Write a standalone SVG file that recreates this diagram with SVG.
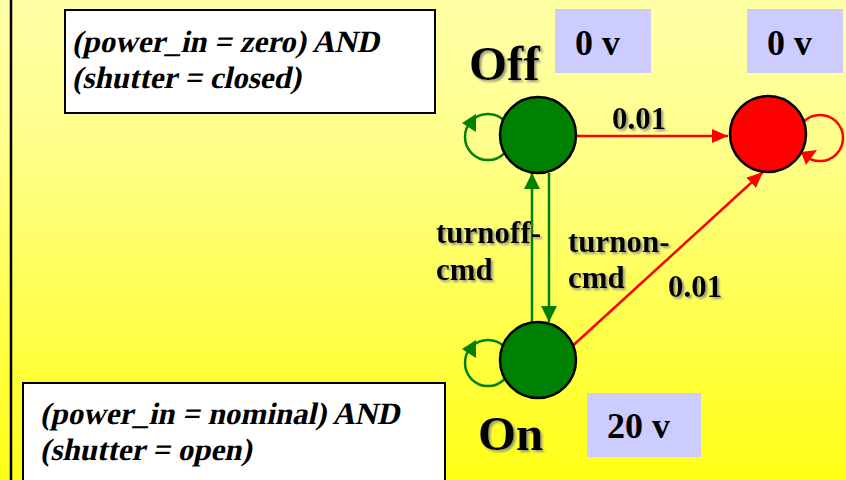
<svg xmlns="http://www.w3.org/2000/svg" width="846" height="480" viewBox="0 0 846 480">
<defs>
<linearGradient id="bg" x1="0" y1="0" x2="0" y2="1">
<stop offset="0" stop-color="#ffffa6"/>
<stop offset="0.3" stop-color="#ffff8c"/>
<stop offset="1" stop-color="#ffff14"/>
</linearGradient>
<filter id="sh" x="-20%" y="-20%" width="150%" height="150%">
<feDropShadow dx="2" dy="2" stdDeviation="1" flood-color="#808080" flood-opacity="0.8"/>
</filter>
<marker id="ar" markerUnits="userSpaceOnUse" markerWidth="17" markerHeight="14" refX="16" refY="7" orient="auto">
<path d="M0,0 L16,7 L0,14 z" fill="#ff0000"/>
</marker>
<marker id="ag" markerUnits="userSpaceOnUse" markerWidth="17" markerHeight="16" refX="16" refY="8" orient="auto">
<path d="M0,0 L16,8 L0,16 z" fill="#008000"/>
</marker>
</defs>
<style>
.cond{font-family:"Liberation Serif","Times New Roman",serif;font-weight:bold;font-size:31px;fill:#000}
.box{fill:#fff;stroke:#000;stroke-width:2}
.big{font-family:"Liberation Serif","Times New Roman",serif;font-weight:bold;font-size:49px;fill:#000;filter:url(#sh)}
.lbl{font-family:"Liberation Serif","Times New Roman",serif;font-weight:bold;font-size:31px;fill:#000;filter:url(#sh)}
.volt{font-family:"Liberation Serif","Times New Roman",serif;font-weight:bold;font-size:36px;fill:#000}
.vbox{fill:#ccccff}
.state{stroke:#000;stroke-width:2.5}
.g{stroke:#008000;stroke-width:2.5;fill:none}
.r{stroke:#ff0000;stroke-width:2.5;fill:none}
</style>
<rect x="0" y="0" width="846" height="480" fill="url(#bg)"/>
<line x1="11" y1="0" x2="11" y2="480" stroke="#000" stroke-width="2.5"/>

<g id="cond-off">
<rect class="box" x="65" y="10" width="370" height="103"/>
<g transform="translate(72,52) skewX(-12)"><text class="cond" x="0" y="0">(power_in = zero) AND</text></g>
<g transform="translate(72,88) skewX(-12)"><text class="cond" x="0" y="0">(shutter = closed)</text></g>
</g>
<g id="cond-on">
<rect class="box" x="23" y="383" width="422" height="110"/>
<g transform="translate(40,424) skewX(-12)"><text class="cond" x="0" y="0">(power_in = nominal) AND</text></g>
<g transform="translate(40,460) skewX(-12)"><text class="cond" x="0" y="0">(shutter = open)</text></g>
</g>

<g id="volt-off">
<rect class="vbox" x="555" y="9" width="96" height="64"/>
<text class="volt" x="575" y="55">0 v</text>
</g>
<g id="volt-fail">
<rect class="vbox" x="747" y="9" width="96" height="64"/>
<text class="volt" x="767" y="55">0 v</text>
</g>
<g id="volt-on">
<rect class="vbox" x="587" y="393" width="114" height="64"/>
<text class="volt" x="607" y="438">20 v</text>
</g>

<g id="connectors">
<circle class="g" cx="488" cy="137" r="23"/>
<polygon points="462,123 476,114 476,132" fill="#008000"/>
<circle class="g" cx="488" cy="363" r="23"/>
<polygon points="462,349 476,340 476,358" fill="#008000"/>
<circle class="r" cx="820" cy="138" r="23"/>
<polygon points="801,152 817,150 806,165" fill="#ff0000"/>
<line class="r" x1="573" y1="136" x2="728" y2="136" marker-end="url(#ar)"/>
<line class="r" x1="567" y1="351" x2="763" y2="172" marker-end="url(#ar)"/>
<line class="g" x1="532" y1="322" x2="532" y2="173" marker-end="url(#ag)"/>
<line class="g" x1="549" y1="173" x2="549" y2="322" marker-end="url(#ag)"/>
<text class="lbl" x="612" y="129">0.01</text>
<text class="lbl" x="668" y="297">0.01</text>
<text class="lbl" x="436" y="243">turnoff-</text>
<text class="lbl" x="436" y="280">cmd</text>
<text class="lbl" x="568" y="252">turnon-</text>
<text class="lbl" x="568" y="288">cmd</text>
</g>

<g id="off">
<circle class="state" cx="538" cy="135" r="38" fill="#008000"/>
<text class="big" x="469" y="80">Off</text>
</g>
<g id="fail">
<circle class="state" cx="768" cy="134" r="38" fill="#ff0000"/>
</g>
<g id="on">
<circle class="state" cx="538" cy="360" r="38" fill="#008000"/>
<text class="big" x="478" y="450">On</text>
</g>
</svg>
